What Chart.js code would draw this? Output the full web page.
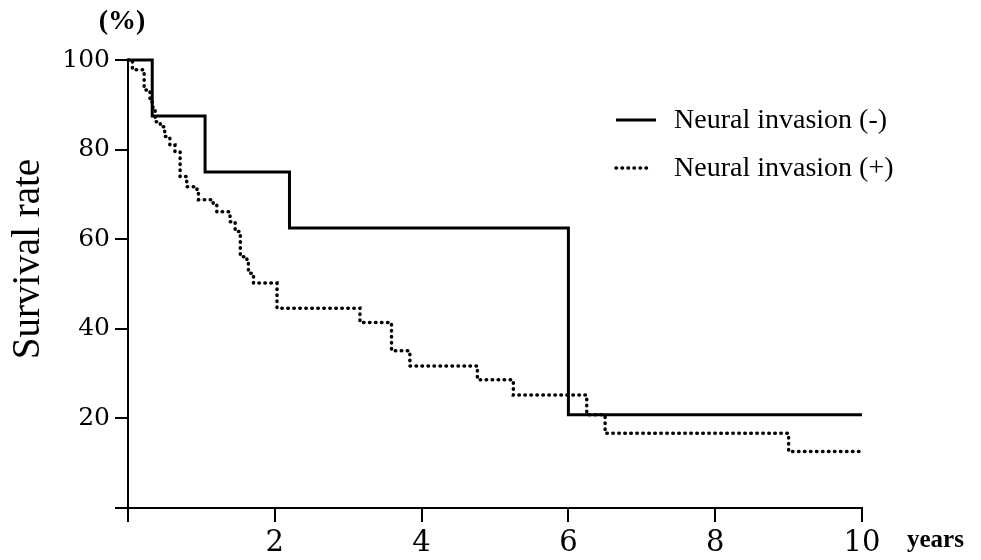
<!DOCTYPE html>
<html>
<head>
<meta charset="utf-8">
<script src="https://cdn.jsdelivr.net/npm/chart.js@4"></script>
<style>
  html, body { margin: 0; padding: 0; background: #fff; }
  #wrap { width: 981px; height: 560px; }
</style>
</head>
<body>
<div id="wrap"><canvas id="km" width="981" height="560"></canvas></div>
<script>
// Kaplan-Meier steps: time (years) where survival drops, and new survival (%)
const negTimes = [0, 0.33, 1.05, 2.2, 6.0, 10];
const negSurvival = [100, 87.5, 75, 62.5, 20.8, 20.8];

const posTimes = [0, 0.06, 0.22, 0.30, 0.34, 0.37, 0.44, 0.50, 0.57, 0.64, 0.71, 0.80, 0.94, 0.96,
  1.16, 1.21, 1.39, 1.46, 1.53, 1.62, 1.64, 1.71, 2.03, 3.16, 3.59, 3.84, 4.76, 5.25, 6.25, 6.5, 9.0, 10];
const posSurvival = [100, 97.8, 93.3, 90.6, 88.9, 86.2, 85.1, 82.9, 81.0, 79.5, 74.0, 71.7, 70.6, 68.8,
  68.0, 66.1, 63.9, 61.7, 56.1, 55.0, 52.4, 50.2, 44.6, 41.4, 35.1, 31.7, 28.6, 25.2, 20.8, 16.7, 12.6, 12.6];

const seriesLabels = ["Neural invasion (-)", "Neural invasion (+)"];
const xTicks = [0, 2, 4, 6, 8, 10];
const yTicks = [0, 20, 40, 60, 80, 100];

const serif = "'Liberation Serif', 'DejaVu Serif', serif";
const wideSerif = "'DejaVu Serif', serif";

function toPoints(xs, ys) {
  return xs.map((x, i) => ({ x: x, y: ys[i] }));
}

// legend and the loose labels around the plot
const extras = {
  id: "extras",
  afterDraw(chart) {
    const ctx = chart.ctx;
    ctx.save();
    ctx.fillStyle = "#000";
    ctx.textBaseline = "middle";

    ctx.font = "bold 28px " + serif;
    ctx.textAlign = "center";
    ctx.fillText("(%)", 122, 22);

    ctx.font = "bold 25px " + serif;
    ctx.textAlign = "left";
    ctx.fillText("years", 907, 541);

    ctx.save();
    ctx.translate(29, 259);
    ctx.rotate(-Math.PI / 2);
    ctx.font = "39px " + serif;
    ctx.textAlign = "center";
    ctx.fillText("Survival rate", 0, 0);
    ctx.restore();

    const rows = [120, 168];
    chart.data.datasets.forEach((ds, i) => {
      const y = rows[i];
      ctx.beginPath();
      ctx.strokeStyle = ds.borderColor;
      ctx.lineWidth = ds.borderWidth;
      ctx.lineCap = ds.borderCapStyle;
      ctx.setLineDash(ds.borderDash);
      ctx.moveTo(616, y);
      ctx.lineTo(i === 0 ? 656 : 652, y);
      ctx.stroke();
      ctx.setLineDash([]);
      ctx.font = "28px " + serif;
      ctx.textAlign = "left";
      ctx.fillText(ds.label, 674, y + 1);
    });
    ctx.restore();
  }
};

new Chart(document.getElementById("km"), {
  type: "line",
  data: {
    datasets: [
      {
        label: seriesLabels[0],
        data: toPoints(negTimes, negSurvival),
        borderColor: "#000",
        borderWidth: 3,
        borderDash: [],
        borderCapStyle: "butt",
        stepped: "before",
        pointRadius: 0,
        fill: false,
        clip: false
      },
      {
        label: seriesLabels[1],
        data: toPoints(posTimes, posSurvival),
        borderColor: "#000",
        borderWidth: 3.5,
        borderDash: [0.5, 5.5],
        borderCapStyle: "round",
        stepped: "before",
        pointRadius: 0,
        fill: false,
        clip: false
      }
    ]
  },
  options: {
    responsive: false,
    animation: false,
    devicePixelRatio: 1,
    layout: { padding: { left: 0, right: 119, top: 60, bottom: 0 } },
    plugins: { legend: { display: false }, tooltip: { enabled: false } },
    scales: {
      x: {
        type: "linear",
        min: 0,
        max: 10,
        afterBuildTicks: (s) => { s.ticks = xTicks.map(v => ({ value: v })); },
        afterFit: (s) => { s.height = 52; },
        border: { color: "#000", width: 2 },
        grid: { drawOnChartArea: false, color: "#000", lineWidth: 2, tickLength: 14 },
        ticks: {
          color: "#000",
          padding: 4,
          font: { family: wideSerif, size: 29 },
          callback: (v) => (v === 0 ? "" : v)
        }
      },
      y: {
        min: 0,
        max: 100,
        afterBuildTicks: (s) => { s.ticks = yTicks.map(v => ({ value: v })); },
        afterFit: (s) => { s.width = 128; },
        border: { color: "#000", width: 2 },
        grid: { drawOnChartArea: false, color: "#000", lineWidth: 2, tickLength: 13 },
        ticks: {
          color: "#000",
          padding: 5,
          font: { family: wideSerif, size: 25 },
          callback: (v) => (v === 0 ? "" : v)
        }
      }
    }
  },
  plugins: [extras]
});
</script>
</body>
</html>
